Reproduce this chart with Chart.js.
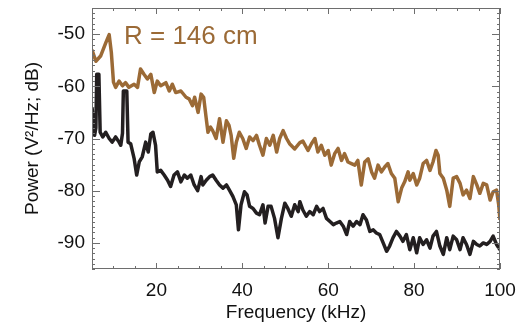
<!DOCTYPE html>
<html>
<head>
<meta charset="utf-8">
<script src="https://cdn.jsdelivr.net/npm/chart.js@4/dist/chart.umd.min.js"></script>
<style>
  html, body { margin: 0; padding: 0; background: #fff; }
  #wrap { width: 530px; height: 327px; }
</style>
</head>
<body>
<div id="wrap"><canvas id="spec"></canvas></div>
<script>
// brown trace (R = 146 cm)
const brownFreq = [5.0, 5.9, 7.0, 8.2, 9.0, 9.5, 10.0, 10.5, 11.3, 12.1, 12.8, 13.6, 14.8, 15.6, 16.3, 17.1, 17.9, 18.7, 19.5, 20.2,
  21.0, 22.2, 23.0, 23.7, 24.5, 25.7, 26.9, 27.6, 28.4, 28.9, 29.7, 30.4, 31.0, 31.6, 32.0, 32.6, 33.1, 33.9, 34.7, 35.5,
  36.3, 36.9, 37.4, 38.0, 38.6, 39.3, 40.1, 40.9, 41.7, 42.5, 43.3, 44.0, 44.8, 45.6, 46.4, 47.2, 48.0, 48.7, 49.5, 50.3,
  51.0, 52.2, 53.4, 54.1, 55.3, 56.1, 56.9, 57.6, 58.4, 59.2, 60.0, 60.7, 61.5, 62.3, 63.1, 63.8, 64.6, 65.4, 66.2, 66.9,
  67.7, 68.5, 69.3, 70.1, 70.8, 71.6, 72.4, 73.2, 73.9, 74.7, 75.5, 76.3, 77.1, 77.8, 78.6, 79.0, 79.8, 80.6, 81.3, 82.1,
  82.9, 83.7, 84.4, 85.1, 85.6, 86.0, 86.8, 87.6, 88.3, 89.1, 89.9, 90.7, 91.4, 92.2, 93.0, 93.8, 94.6, 95.3, 96.1, 96.9,
  97.7, 98.4, 99.2, 99.7, 100.0];
const brownPower = [-53.0, -55.2, -54.2, -51.7, -50.1, -53.5, -59.2, -60.2, -59.0, -59.9, -59.3, -60.2, -59.6, -60.2, -56.7, -57.7, -58.6, -57.7, -61.2, -59.0,
  -59.9, -59.3, -60.9, -59.6, -61.2, -60.9, -62.1, -62.4, -63.7, -62.1, -65.0, -61.5, -62.1, -66.2, -68.8, -67.8, -68.5, -70.0, -66.2, -70.7,
  -66.6, -67.5, -69.4, -73.8, -70.7, -68.8, -70.0, -71.9, -69.7, -70.4, -69.4, -71.3, -73.2, -70.0, -71.3, -69.4, -72.6, -70.0, -68.5, -70.0,
  -71.0, -72.0, -70.8, -70.5, -72.3, -71.0, -70.0, -72.6, -71.3, -73.2, -72.3, -75.1, -72.9, -71.9, -74.2, -72.9, -74.5, -74.8, -75.1, -74.2,
  -78.9, -74.5, -73.9, -76.4, -77.6, -75.1, -76.4, -75.4, -74.8, -76.7, -77.6, -82.1, -79.5, -78.3, -76.4, -78.0, -76.7, -78.9, -77.6, -74.8,
  -74.2, -76.1, -74.5, -72.3, -73.2, -76.7, -77.6, -79.9, -83.0, -77.6, -77.3, -78.6, -80.8, -79.9, -81.5, -77.3, -78.9, -80.5, -78.6, -78.9,
  -81.8, -80.2, -79.9, -82.7, -85.6];

// black trace
const blackFreq = [5.0, 5.3, 5.6, 5.9, 6.1, 6.6, 6.9, 7.5, 8.2, 9.0, 9.7, 10.5, 11.3, 11.7, 12.1, 12.3, 13.1, 13.4, 14.0, 14.8,
  15.4, 16.0, 16.7, 17.5, 18.1, 18.7, 19.2, 19.8, 20.2, 21.0, 21.8, 22.6, 23.3, 24.1, 24.9, 25.7, 26.5, 27.2, 28.0, 28.8,
  29.6, 30.4, 30.8, 31.6, 32.4, 33.1, 33.9, 34.7, 35.5, 36.3, 37.0, 37.8, 38.6, 39.1, 39.7, 40.5, 41.1, 41.7, 42.5, 43.3,
  44.0, 44.8, 45.3, 46.0, 46.7, 47.5, 48.3, 49.1, 49.9, 50.6, 51.4, 52.2, 53.0, 53.4, 54.1, 54.9, 55.7, 56.5, 57.3, 58.0,
  58.8, 59.6, 60.4, 61.2, 61.9, 62.7, 63.5, 64.3, 65.0, 65.8, 66.6, 67.4, 68.1, 68.9, 69.7, 70.5, 71.2, 72.0, 72.8, 73.6,
  74.3, 75.1, 75.9, 76.7, 77.4, 78.2, 79.0, 79.8, 80.6, 81.3, 82.1, 82.9, 83.7, 84.4, 85.2, 86.0, 86.8, 87.6, 88.3, 89.1,
  89.9, 90.7, 91.4, 92.2, 93.0, 93.8, 94.6, 95.3, 96.1, 96.9, 97.7, 98.4, 99.2, 100.0];
const blackPower = [-64.0, -66.5, -69.4, -68.0, -57.7, -57.7, -68.8, -69.7, -68.8, -70.0, -70.7, -69.7, -70.7, -71.3, -69.0, -60.9, -60.9, -70.7, -71.0, -73.8,
  -77.0, -74.5, -73.5, -70.7, -72.6, -69.1, -68.8, -71.3, -76.4, -76.1, -77.0, -78.0, -79.2, -77.0, -76.4, -78.3, -77.0, -77.6, -77.0, -78.9,
  -80.0, -77.3, -78.9, -78.0, -77.3, -77.0, -78.0, -78.9, -79.5, -78.9, -79.9, -81.1, -82.7, -87.5, -82.7, -80.2, -80.8, -83.0, -83.4, -84.3,
  -84.6, -82.7, -86.2, -83.0, -83.0, -85.3, -89.0, -85.3, -82.4, -83.4, -84.9, -82.7, -84.0, -82.1, -83.7, -84.9, -84.0, -84.6, -83.0, -84.0,
  -83.4, -85.3, -85.9, -86.5, -86.2, -85.9, -86.8, -88.4, -85.9, -86.8, -85.9, -86.5, -84.6, -85.6, -87.8, -87.5, -88.1, -88.4, -90.0, -91.6,
  -90.6, -89.0, -87.8, -88.7, -89.7, -88.4, -91.3, -89.0, -91.9, -89.0, -90.3, -89.4, -91.0, -88.7, -87.8, -90.6, -92.2, -89.0, -91.3, -88.7,
  -89.4, -91.3, -89.0, -90.3, -92.2, -89.7, -90.3, -90.6, -90.0, -90.3, -89.7, -88.7, -90.3, -91.3];

const xTickLabels = [20, 40, 60, 80, 100];
const yTickLabels = [-90, -80, -70, -60, -50];

const BROWN = '#9b6a36';
const BLACK = '#231f20';
const AXIS = '#6e6e6e';

function pts(xs, ys) {
  return xs.map((x, i) => ({ x: x, y: ys[i] }));
}

// box frame with inward ticks on all four sides, plus the radius label
const frameTicks = {
  id: 'frameTicks',
  afterDraw(chart) {
    const ctx = chart.ctx;
    const a = chart.chartArea;
    const xs = chart.scales.x, ys = chart.scales.y;
    ctx.save();
    ctx.strokeStyle = AXIS;
    ctx.lineWidth = 1;
    ctx.strokeRect(a.left + 0.5, a.top + 0.5, a.right - a.left - 1, a.bottom - a.top - 1);
    ctx.beginPath();
    for (let v = 5; v <= 100; v += 5) {
      const px = Math.round(xs.getPixelForValue(v)) + 0.5;
      const len = xTickLabels.includes(v) ? 6 : 3;
      ctx.moveTo(px, a.bottom); ctx.lineTo(px, a.bottom - len);
      ctx.moveTo(px, a.top); ctx.lineTo(px, a.top + len);
    }
    for (let v = -95; v <= -45; v += 1) {
      const py = Math.round(ys.getPixelForValue(v)) + 0.5;
      const len = yTickLabels.includes(v) ? 8 : 3;
      ctx.moveTo(a.left, py); ctx.lineTo(a.left + len, py);
      ctx.moveTo(a.right, py); ctx.lineTo(a.right - len, py);
    }
    ctx.stroke();

    ctx.fillStyle = BROWN;
    ctx.font = '26px "Liberation Sans", Arial, sans-serif';
    ctx.textBaseline = 'alphabetic';
    ctx.fillText('R = 146 cm', 124, 44);
    ctx.restore();
  }
};

const tickFont = { family: '"Liberation Sans", Arial, sans-serif', size: 19 };

new Chart(document.getElementById('spec'), {
  type: 'line',
  data: {
    datasets: [
      { label: 'R = 146 cm', data: pts(brownFreq, brownPower), borderColor: BROWN, borderWidth: 3.5,
        borderJoinStyle: 'round', pointRadius: 0, tension: 0, fill: false },
      { label: 'black', data: pts(blackFreq, blackPower), borderColor: BLACK, borderWidth: 3.5,
        borderJoinStyle: 'round', pointRadius: 0, tension: 0, fill: false }
    ]
  },
  options: {
    responsive: true,
    maintainAspectRatio: false,
    animation: false,
    layout: { padding: { top: 8, right: 30, bottom: 0, left: 0 } },
    plugins: { legend: { display: false }, tooltip: { enabled: false } },
    scales: {
      x: {
        type: 'linear', min: 5, max: 100,
        grid: { display: false, drawTicks: false },
        border: { display: false },
        afterBuildTicks: s => { s.ticks = xTickLabels.map(v => ({ value: v })); },
        afterFit: s => { s.height = 58; s.paddingLeft = 0; s.paddingRight = 0; },
        ticks: { color: '#111', font: tickFont, padding: 10, maxRotation: 0, autoSkip: false },
        title: { display: true, text: 'Frequency (kHz)', color: '#111', font: tickFont, padding: { top: 0, bottom: 3 } }
      },
      y: {
        type: 'linear', min: -95, max: -45,
        grid: { display: false, drawTicks: false },
        border: { display: false },
        afterBuildTicks: s => { s.ticks = yTickLabels.map(v => ({ value: v })); },
        afterFit: s => { s.width = 92; s.paddingTop = 0; s.paddingBottom = 0; },
        ticks: { color: '#111', font: tickFont, padding: 7, autoSkip: false },
        title: { display: true, text: 'Power (V²/Hz; dB)', color: '#111', font: tickFont, padding: { top: 21, bottom: 0 } }
      }
    }
  },
  plugins: [frameTicks]
});
</script>
</body>
</html>
